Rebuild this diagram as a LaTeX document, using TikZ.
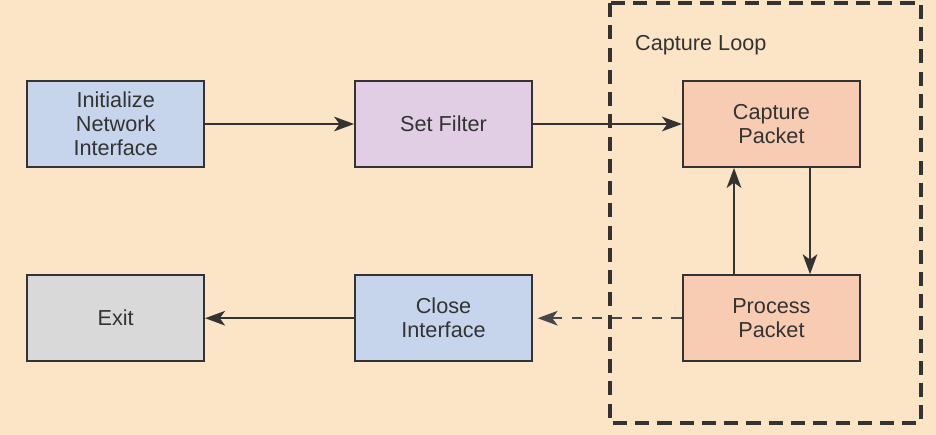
\documentclass[tikz,border=0pt]{standalone}
\usepackage{fontspec}
\setmainfont{Liberation Sans}
\usepackage{xcolor}
\usetikzlibrary{arrows.meta,positioning}
\definecolor{paper}{HTML}{FCE4C7}
\definecolor{ink}{HTML}{333333}
\definecolor{bluebox}{HTML}{C6D5EC}
\definecolor{lilac}{HTML}{E1CEE4}
\definecolor{salmon}{HTML}{F8CBB3}
\definecolor{greybox}{HTML}{D9D9D9}

\begin{document}
\begin{tikzpicture}[node distance=3.19cm and 4.47cm,
    every node/.style={font=\fontsize{18.5}{20.5}\selectfont, text=ink},
    block/.style={draw=ink, line width=1.6pt, minimum width=5.31cm, minimum height=2.58cm, align=center},
    flow/.style={-{Stealth[length=6mm,width=4.4mm,inset=1.6mm]}, draw=ink, line width=1.6pt}]
    \fill[paper] (0,0) rectangle (28.08,-13.05);
    \node[block, fill=bluebox] (init) at (3.47,-3.72) {Initialize\\Network\\Interface};
    \node[block, fill=lilac, right=of init] (filter) {Set Filter};
    \node[block, fill=salmon, right=of filter] (capture) {Capture\\Packet};
    \node[block, fill=salmon, below=of capture] (process) {Process\\Packet};
    \node[block, fill=bluebox, below=of filter] (close) {Close\\Interface};
    \node[block, fill=greybox, below=of init] (exit) {Exit};
    % capture loop frame
    \draw[ink, line width=2.6pt, dash pattern=on 12pt off 7pt] (18.3,-0.09) rectangle (27.63,-12.69);
    \node[anchor=west] (looplbl) at (18.93,-1.35) {Capture Loop};
    \draw[flow] (init) -- (filter);
    \draw[flow] (filter) -- (capture);
    \draw[flow] (capture.south -| 24.3,0) -- (process.north -| 24.3,0);
    \draw[flow] (process.north -| 22.02,0) -- (capture.south -| 22.02,0);
    \draw[flow, draw=ink!90, dash pattern=on 9pt off 8pt] (process) -- ([xshift=4pt]close.east);
    \draw[flow] (close) -- (exit);
  \end{tikzpicture}
\end{document}
